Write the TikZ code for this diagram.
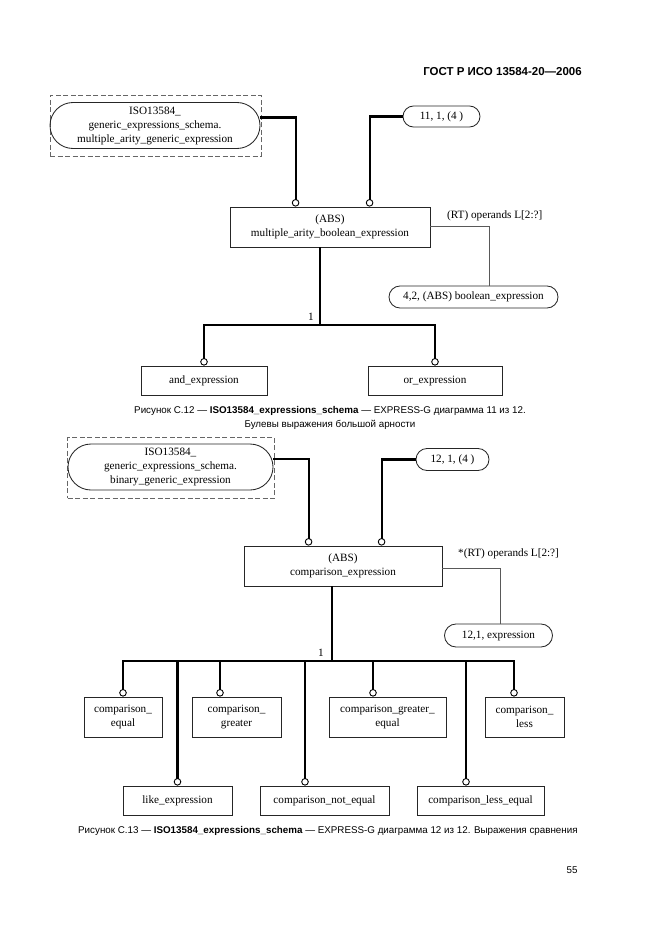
\documentclass[tikz,border=0pt]{standalone}
\usepackage{fontspec}
\setmainfont{Liberation Serif}
\newfontfamily\capfont{Liberation Sans}
\usetikzlibrary{shapes.misc,arrows.meta}
\tikzset{
  dtext/.style={font=\fontsize{11.2}{14}\selectfont, align=center, inner sep=0pt},
  ebox/.style={dtext, draw=black!85, line width=0.85pt},
  stad/.style={dtext, draw=black!85, line width=0.85pt, rounded rectangle},
  dashbox/.style={draw=black!60, line width=0.9pt, dash pattern=on 5pt off 2.5pt, inner sep=0pt},
  con/.style={line width=2.1pt, draw=black},
  att/.style={line width=0.9pt, draw=black!65},
  circ/.style={-{Circle[open, length=7.5pt, width=7.5pt, line width=0.9pt]}},
  lab/.style={font=\fontsize{11.2}{14}\selectfont, inner sep=0pt},
  captext/.style={font=\capfont\fontsize{9.8}{13.5}\selectfont, inner sep=0pt, align=center}
}
\begin{document}
\begin{tikzpicture}[x=1pt,y=-1pt]
\useasboundingbox (0,0) rectangle (661,936);
\fill[white] (0,0) rectangle (661,936);

% header
\node[font=\capfont\bfseries\fontsize{11.5}{13}\selectfont, anchor=east, inner sep=0pt] (hdr) at (582,72) {ГОСТ Р ИСО 13584-20—2006};

% ---------- Diagram 1 ----------
\node[dashbox, minimum width=211pt, minimum height=61pt] (d1) at (155.5,126) {};
\node[stad, minimum width=210pt, minimum height=46pt] (s1) at (155,125.5) {ISO13584\_\\generic\_expressions\_schema.\\multiple\_arity\_generic\_expression};
\node[stad, minimum width=77pt, minimum height=21pt] (p1) at (441.5,116.5) {11, 1, (4 )};
\node[ebox, minimum width=200pt, minimum height=40pt] (b1) at (330,227) {(ABS)\\multiple\_arity\_boolean\_expression};
\node[lab, anchor=west] (l1) at (447,216) {(RT) operands L[2:?]};
\node[stad, minimum width=169pt, minimum height=22pt] (a1) at (473.5,297) {4,2, (ABS) boolean\_expression};
\node[ebox, minimum width=126pt, minimum height=29pt] (e1) at (204,380.5) {and\_expression};
\node[ebox, minimum width=134pt, minimum height=29pt] (e2) at (435,380.5) {or\_expression};
\node[lab] (n1) at (311,317) {1};
\coordinate (j1) at (320,325);

\draw[con, circ] ([yshift=8pt]s1.east) -| ([xshift=66pt]b1.north west);
\draw[con, circ] (p1.west) -| ([xshift=140pt]b1.north west);
\draw[att] ([yshift=1pt]b1.east) -| ([xshift=15.5pt]a1.north);
\draw[con] ([xshift=-10pt]b1.south) -- (j1);
\draw[con, circ] (j1) -| (e1.north);
\draw[con, circ] (j1) -| (e2.north);

\node[captext] (cap1) at (330,418) {Рисунок С.12 — \textbf{ISO13584\_expressions\_schema} — EXPRESS-G диаграмма 11 из 12.\\Булевы выражения большой арности};

% ---------- Diagram 2 ----------
\node[dashbox, minimum width=207pt, minimum height=60.5pt] (d2) at (171,467.75) {};
\node[stad, minimum width=205pt, minimum height=46pt] (s2) at (170.5,467) {ISO13584\_\\generic\_expressions\_schema.\\binary\_generic\_expression};
\node[stad, minimum width=73pt, minimum height=22pt] (p2) at (452.5,459.5) {12, 1, (4 )};
\node[ebox, minimum width=198pt, minimum height=40pt] (b2) at (343,566) {(ABS)\\comparison\_expression};
\node[lab, anchor=west] (l2) at (458,554) {*(RT) operands L[2:?]};
\node[stad, minimum width=108pt, minimum height=23pt] (a2) at (498.5,635.5) {12,1, expression};
\node[lab] (n2) at (321,653) {1};
\coordinate (j2) at (332,661);

\node[ebox, minimum width=78pt, minimum height=40pt] (c1) at (123,717) {comparison\_\\equal};
\node[ebox, minimum width=89pt, minimum height=40pt] (c2) at (236.5,717) {comparison\_\\greater};
\node[ebox, minimum width=117pt, minimum height=40pt] (c3) at (387.5,717) {comparison\_greater\_\\equal};
\node[ebox, minimum width=79pt, minimum height=40pt] (c4) at (524.5,717) {comparison\_\\less};
\node[ebox, minimum width=109pt, minimum height=29pt] (c5) at (177.5,800.5) {like\_expression};
\node[ebox, minimum width=129pt, minimum height=29pt] (c6) at (324.5,800.5) {comparison\_not\_equal};
\node[ebox, minimum width=127pt, minimum height=29pt] (c7) at (480.5,800.5) {comparison\_less\_equal};

\draw[con, circ] ([yshift=8pt]s2.east) -| ([xshift=65pt]b2.north west);
\draw[con, circ] (p2.west) -| ([xshift=138pt]b2.north west);
\draw[att] ([yshift=-2pt]b2.east) -| ([xshift=1.5pt]a2.north);
\draw[con] ([xshift=-11pt]b2.south) -- (j2);
\draw[con, circ] (j2) -| (c1.north);
\draw[con, circ] (j2) -| ([xshift=-16.5pt]c2.north);
\draw[con, circ] (j2) -| ([xshift=-14.5pt]c3.north);
\draw[con, circ] (j2) -| ([xshift=-10.5pt]c4.north);
\draw[con, circ] (j2) -| (c5.north);
\draw[con, circ] (j2) -| ([xshift=-19.5pt]c6.north);
\draw[con, circ] (j2) -| ([xshift=-14.5pt]c7.north);

\node[captext, anchor=west] (cap2) at (78,831) {Рисунок С.13 — \textbf{ISO13584\_expressions\_schema} — EXPRESS-G диаграмма 12 из 12. Выражения сравнения};

\node[captext] (pg) at (572,870) {55};
\end{tikzpicture}
\end{document}
